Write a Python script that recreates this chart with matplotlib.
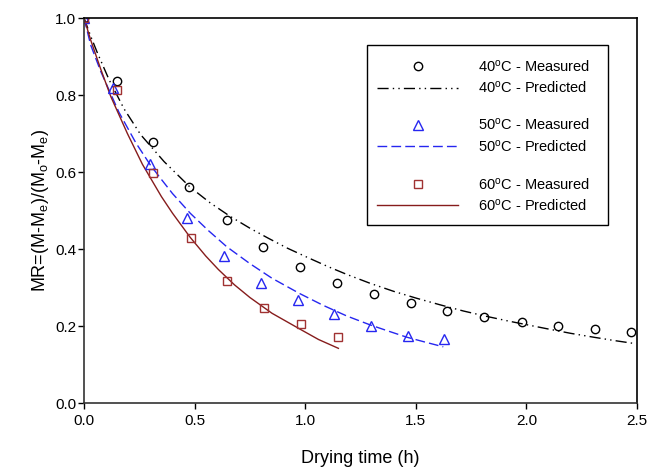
import matplotlib
matplotlib.use("Agg")
import matplotlib.pyplot as plt
from matplotlib.patches import Rectangle
from matplotlib.legend import Legend

plt.rcParams["font.family"] = ["Liberation Sans", "DejaVu Sans"]
plt.rcParams["mathtext.fontset"] = "custom"
plt.rcParams["mathtext.rm"] = "Liberation Sans"
plt.rcParams["mathtext.it"] = "Liberation Sans:italic"

# measured moisture ratio
t40 = [0, 0.148, 0.312, 0.475, 0.646, 0.810, 0.976, 1.145, 1.309, 1.477, 1.643, 1.810, 1.978, 2.144, 2.310, 2.474]
mr40 = [1.0, 0.837, 0.679, 0.562, 0.476, 0.405, 0.352, 0.312, 0.283, 0.259, 0.238, 0.223, 0.210, 0.200, 0.191, 0.185]

t50 = [0, 0.133, 0.298, 0.467, 0.633, 0.800, 0.966, 1.130, 1.297, 1.463, 1.628]
mr50 = [1.0, 0.818, 0.620, 0.480, 0.382, 0.312, 0.268, 0.230, 0.199, 0.175, 0.166]

t60 = [0, 0.151, 0.313, 0.482, 0.646, 0.814, 0.980, 1.147]
mr60 = [1.0, 0.813, 0.597, 0.429, 0.318, 0.248, 0.204, 0.172]

# predicted curves
pt40 = [0, 0.03, 0.06, 0.113, 0.181, 0.256, 0.362, 0.479, 0.57, 0.660, 0.75, 0.833, 0.92, 1.007,
        1.10, 1.188, 1.293, 1.40, 1.504, 1.61, 1.715, 1.82, 1.926, 2.092, 2.20, 2.303, 2.40, 2.483]
pmr40 = [1.0, 0.953, 0.910, 0.840, 0.764, 0.697, 0.627, 0.561, 0.520, 0.485, 0.454, 0.428, 0.402, 0.379,
         0.355, 0.334, 0.311, 0.290, 0.272, 0.255, 0.239, 0.225, 0.212, 0.193, 0.181, 0.171, 0.162, 0.155]

pt50 = [0, 0.03, 0.075, 0.158, 0.234, 0.30, 0.344, 0.40, 0.48, 0.56, 0.645, 0.75, 0.85, 0.976,
        1.08, 1.188, 1.293, 1.38, 1.459, 1.55, 1.624]
pmr50 = [1.0, 0.930, 0.862, 0.755, 0.676, 0.618, 0.585, 0.544, 0.493, 0.449, 0.406, 0.362, 0.324, 0.284,
         0.254, 0.226, 0.203, 0.186, 0.171, 0.157, 0.146]

pt60 = [0, 0.03, 0.075, 0.121, 0.196, 0.264, 0.35, 0.40, 0.479, 0.55, 0.607, 0.68, 0.75, 0.85, 0.976, 1.06, 1.15]
pmr60 = [1.0, 0.943, 0.868, 0.796, 0.700, 0.620, 0.536, 0.493, 0.431, 0.382, 0.347, 0.307, 0.274, 0.233,
         0.192, 0.165, 0.142]

labels = [
    "40$^\\mathrm{o}$C - Measured", "40$^\\mathrm{o}$C - Predicted",
    "50$^\\mathrm{o}$C - Measured", "50$^\\mathrm{o}$C - Predicted",
    "60$^\\mathrm{o}$C - Measured", "60$^\\mathrm{o}$C - Predicted",
]

fig = plt.figure(figsize=(6.57, 4.69), dpi=100)
ax = fig.add_axes([0.1279, 0.1407, 0.8417, 0.8209])

blue = "#2626F0"
red_line = "#861C1C"
red_mark = "#A03232"

l40, = ax.plot(pt40, pmr40, color="black", lw=1.0, linestyle=(0, (8, 3, 1, 3, 1, 3)))
l50, = ax.plot(pt50, pmr50, color=blue, lw=1.0, linestyle=(0, (7, 3)))
l60, = ax.plot(pt60, pmr60, color=red_line, lw=1.0)

m40, = ax.plot(t40, mr40, "o", ms=6, mfc="none", mec="black", mew=1.0)
m50, = ax.plot(t50, mr50, "^", ms=6.5, mfc="none", mec=blue, mew=1.0)
m60, = ax.plot(t60, mr60, "s", ms=6, mfc="none", mec=red_mark, mew=1.0)

ax.set_xlim(0, 2.5)
ax.set_ylim(0, 1.0)
ax.set_xticks([0, 0.5, 1.0, 1.5, 2.0, 2.5])
ax.set_yticks([0, 0.2, 0.4, 0.6, 0.8, 1.0])
ax.set_xticklabels(["0.0", "0.5", "1.0", "1.5", "2.0", "2.5"])
ax.set_yticklabels(["0.0", "0.2", "0.4", "0.6", "0.8", "1.0"])
ax.tick_params(direction="out", length=4, width=1, labelsize=11, top=False, right=False)
ax.tick_params(axis="y", pad=1.5)
ax.tick_params(axis="x", pad=4)

for side in ("left", "bottom"):
    ax.spines[side].set_color("#333333")
    ax.spines[side].set_linewidth(1.2)
for side in ("top", "right"):
    ax.spines[side].set_color("black")
    ax.spines[side].set_linewidth(1.2)

ax.set_xlabel("Drying time (h)", fontsize=13, labelpad=16)
ax.set_ylabel("MR=(M-M$_\\mathrm{e}$)/(M$_\\mathrm{o}$-M$_\\mathrm{e}$)", fontsize=13, labelpad=3)

# legend: a framed box with three groups of two rows
ax.add_patch(Rectangle((0.511, 0.462), 0.437, 0.468, transform=ax.transAxes,
                       fill=False, edgecolor="black", lw=1.0, zorder=5))
handles = [m40, l40, m50, l50, m60, l60]
row_y = [0.875, 0.819, 0.722, 0.666, 0.568, 0.514]
for h, lab, y in zip(handles, labels, row_y):
    leg = Legend(ax, [h], [lab], loc="center left", bbox_to_anchor=(0.530, y),
                 frameon=False, fontsize=10.5, handlelength=5.55, handletextpad=1.35,
                 borderpad=0, borderaxespad=0, numpoints=1)
    ax.add_artist(leg)

fig.savefig("out.png", dpi=100)
